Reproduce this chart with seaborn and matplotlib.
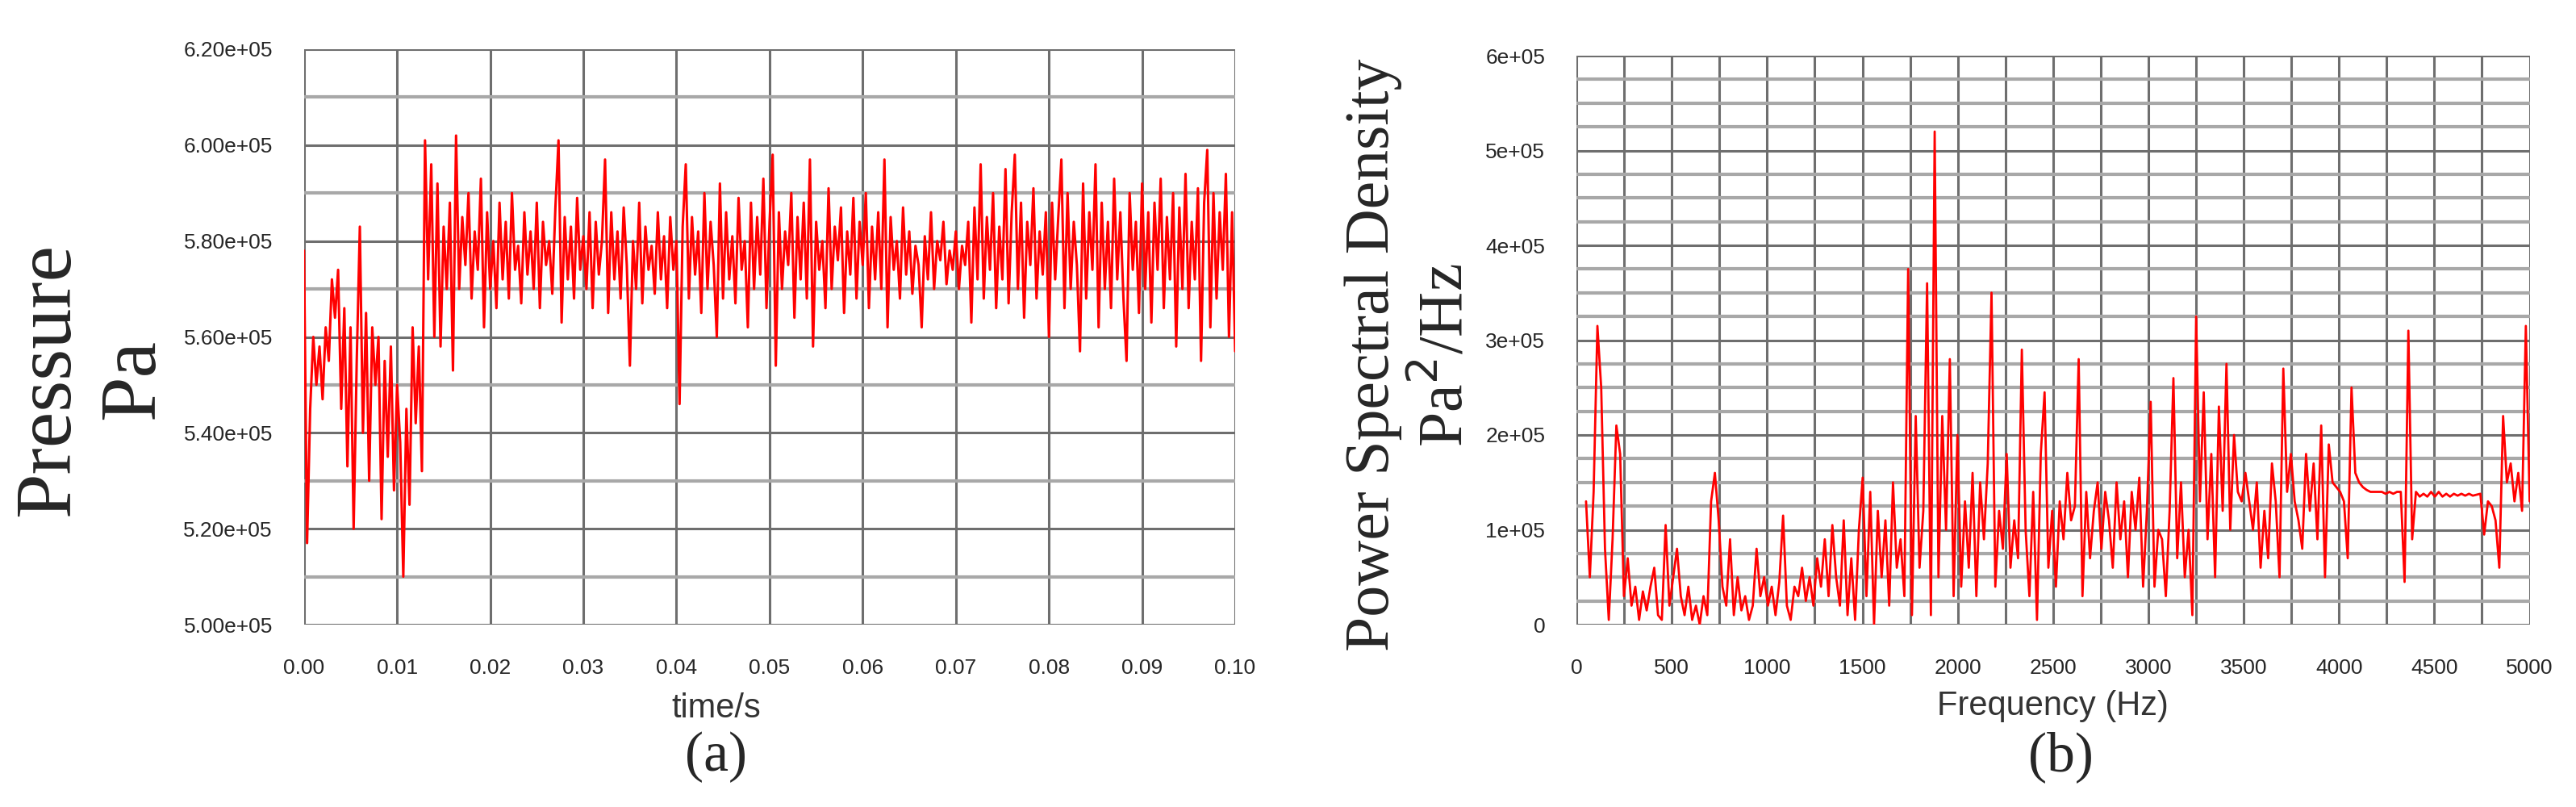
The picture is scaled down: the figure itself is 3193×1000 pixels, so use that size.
import matplotlib
matplotlib.use("Agg")
import matplotlib.pyplot as plt
import matplotlib.ticker as mticker
import numpy as np
import pandas as pd
import seaborn as sns

# (a) pressure history, values in units of 1e5 Pa, evenly sampled over 0..0.1 s
pressure = [
    5.78, 5.17, 5.45, 5.60, 5.50, 5.58, 5.47, 5.62, 5.55, 5.72,
    5.64, 5.74, 5.45, 5.66, 5.33, 5.62, 5.20, 5.55, 5.83, 5.40,
    5.65, 5.30, 5.62, 5.50, 5.60, 5.22, 5.55, 5.35, 5.58, 5.28,
    5.50, 5.38, 5.10, 5.45, 5.25, 5.62, 5.42, 5.58, 5.32, 6.01,
    5.72, 5.96, 5.60, 5.92, 5.58, 5.83, 5.70, 5.88, 5.53, 6.02,
    5.70, 5.85, 5.75, 5.90, 5.68, 5.82, 5.74, 5.93, 5.62, 5.86,
    5.70, 5.80, 5.66, 5.88, 5.72, 5.84, 5.68, 5.90, 5.74, 5.79,
    5.67, 5.86, 5.73, 5.82, 5.70, 5.88, 5.66, 5.84, 5.75, 5.80,
    5.69, 5.87, 6.01, 5.63, 5.85, 5.72, 5.83, 5.68, 5.89, 5.74,
    5.81, 5.70, 5.86, 5.66, 5.84, 5.73, 5.80, 5.97, 5.65, 5.86,
    5.72, 5.82, 5.68, 5.87, 5.75, 5.54, 5.80, 5.70, 5.88, 5.67,
    5.83, 5.74, 5.79, 5.69, 5.86, 5.72, 5.81, 5.66, 5.85, 5.74,
    5.80, 5.46, 5.83, 5.96, 5.68, 5.85, 5.73, 5.82, 5.65, 5.90,
    5.70, 5.84, 5.75, 5.60, 5.92, 5.68, 5.86, 5.72, 5.81, 5.67,
    5.89, 5.74, 5.80, 5.62, 5.88, 5.70, 5.85, 5.73, 5.93, 5.66,
    5.84, 5.98, 5.54, 5.86, 5.70, 5.82, 5.75, 5.90, 5.64, 5.85,
    5.72, 5.88, 5.68, 5.97, 5.58, 5.84, 5.74, 5.80, 5.66, 5.91,
    5.70, 5.83, 5.76, 5.87, 5.65, 5.82, 5.73, 5.89, 5.68, 5.84,
    5.75, 5.90, 5.66, 5.83, 5.72, 5.86, 5.70, 5.97, 5.62, 5.85,
    5.74, 5.80, 5.68, 5.87, 5.73, 5.82, 5.69, 5.79, 5.75, 5.62,
    5.81, 5.72, 5.86, 5.70, 5.80, 5.76, 5.84, 5.71, 5.78, 5.74,
    5.82, 5.70, 5.79, 5.75, 5.84, 5.63, 5.87, 5.72, 5.96, 5.68,
    5.85, 5.74, 5.90, 5.66, 5.83, 5.72, 5.95, 5.67, 5.86, 5.98,
    5.70, 5.88, 5.64, 5.84, 5.75, 5.91, 5.68, 5.82, 5.73, 5.86,
    5.60, 5.88, 5.72, 5.85, 5.97, 5.66, 5.90, 5.70, 5.84, 5.75,
    5.57, 5.92, 5.68, 5.86, 5.74, 5.96, 5.62, 5.88, 5.70, 5.84,
    5.66, 5.93, 5.72, 5.86, 5.68, 5.55, 5.90, 5.74, 5.84, 5.65,
    5.92, 5.70, 5.86, 5.63, 5.88, 5.74, 5.93, 5.66, 5.85, 5.72,
    5.90, 5.58, 5.87, 5.70, 5.94, 5.66, 5.84, 5.72, 5.91, 5.55,
    5.88, 5.99, 5.62, 5.90, 5.68, 5.86, 5.74, 5.94, 5.60, 5.86,
    5.57,
]

# (b) power spectral density, units of 1e5 Pa^2/Hz, evenly sampled over 50..5000 Hz
psd = [
    1.3, 0.5, 1.4, 3.15, 2.5, 0.8, 0.05, 0.9, 2.1, 1.8, 0.3,
    0.7, 0.2, 0.4, 0.05, 0.35, 0.15, 0.4, 0.6, 0.1, 0.05, 1.05,
    0.2, 0.5, 0.8, 0.3, 0.1, 0.4, 0.05, 0.2, 0.0, 0.3, 0.1,
    1.3, 1.6, 1.1, 0.4,
    0.2, 0.9, 0.1, 0.5, 0.15, 0.3, 0.05, 0.2, 0.8, 0.3, 0.5, 0.2,
    0.4, 0.1, 0.45, 1.15, 0.2, 0.05, 0.4, 0.3, 0.6, 0.25, 0.5, 0.2,
    0.7, 0.4, 0.9, 0.3, 1.05, 0.5, 0.2, 1.1, 0.1, 0.7, 0.05, 1.0,
    1.55, 0.3, 1.4, 0.0, 1.2, 0.5, 1.1, 0.2, 1.5, 0.6, 0.9, 0.3,
    3.75, 0.1, 2.2, 0.6, 1.2, 3.6, 0.1, 5.2, 0.5, 2.2, 1.0, 2.8, 0.3, 2.0,
    0.4, 1.3, 0.6, 1.6, 0.3, 1.5, 0.9, 1.7, 3.5, 0.4, 1.2, 0.8, 1.8,
    0.6, 1.1, 0.7, 2.9, 1.0, 0.3, 1.4, 0.05, 1.8, 2.45, 0.6, 1.2,
    0.4, 1.3, 0.9, 1.6, 1.1, 1.25, 2.8, 0.3, 1.4, 0.7, 1.2, 1.5, 0.8,
    1.4, 1.1, 0.6, 1.5, 0.9, 1.3, 0.5, 1.4, 1.0, 1.55, 0.4, 1.2,
    2.35, 0.4, 1.0, 0.9, 0.3, 1.2, 2.6, 0.7, 1.5, 0.5, 1.0, 0.1, 3.25,
    1.3, 2.45, 0.9, 1.8, 0.5, 2.3, 1.2, 2.75, 1.0, 2.0, 1.4, 1.3,
    1.6, 1.3, 1.0, 1.5, 0.6, 1.2, 0.7, 1.7, 1.3, 0.5, 2.7, 1.4, 1.8,
    1.3, 1.1, 0.8, 1.8, 1.2, 1.7, 0.9, 2.1, 0.5, 1.9, 1.5, 1.45,
    1.4, 1.3, 0.7, 2.5, 1.6, 1.5, 1.45, 1.42, 1.4, 1.4, 1.4, 1.4, 1.38,
    1.4, 1.38, 1.4, 1.4, 0.45, 3.1, 0.9, 1.4, 1.35, 1.38, 1.35, 1.4,
    1.35, 1.4, 1.35, 1.38, 1.35, 1.38, 1.36, 1.38, 1.36, 1.38, 1.36, 1.37,
    1.38, 0.95, 1.3, 1.25, 1.1, 0.6, 2.2, 1.5, 1.7, 1.3, 1.6, 1.2, 3.15, 1.3,
]

time = np.linspace(0.0, 0.1, len(pressure))
freq = np.linspace(50, 5000, len(psd))

df_a = pd.DataFrame({"t": time, "p": np.array(pressure) * 1e5})
df_b = pd.DataFrame({"f": freq, "s": np.array(psd) * 1e5})

sns.set_style("white")
plt.rcParams["font.family"] = ["Liberation Sans", "DejaVu Sans"]

fig = plt.figure(figsize=(31.93, 10), dpi=100)
ax_a = fig.add_axes([0.118, 0.226, 0.3615, 0.713])
ax_b = fig.add_axes([0.612, 0.226, 0.370, 0.705])

RED = "#ff0000"


def style_axes(ax):
    for s in ax.spines.values():
        s.set_visible(False)
    ax.grid(True, which="major", color="#6e6e6e", linewidth=2.2)
    ax.grid(True, which="minor", axis="y", color="#a8a8a8", linewidth=3.0)
    ax.set_axisbelow(True)
    ax.tick_params(which="both", length=0, labelsize=19)
    ax.tick_params(axis="x", pad=30)
    ax.tick_params(axis="y", pad=28)


sns.lineplot(data=df_a, x="t", y="p", ax=ax_a, color=RED, linewidth=2.2)
ax_a.set_xlim(0, 0.1)
ax_a.set_ylim(5.0e5, 6.2e5)
ax_a.set_xticks(np.arange(0, 0.1001, 0.01))
ax_a.xaxis.set_major_formatter(mticker.FormatStrFormatter("%.2f"))
ax_a.set_yticks(np.arange(5.0e5, 6.21e5, 0.2e5))
ax_a.set_yticks(np.arange(5.0e5, 6.21e5, 0.1e5), minor=True)
ax_a.yaxis.set_major_formatter(mticker.FuncFormatter(lambda v, p: f"{v:.2e}"))
ax_a.set_xlabel("")
ax_a.set_ylabel("")
style_axes(ax_a)

sns.lineplot(data=df_b, x="f", y="s", ax=ax_b, color=RED, linewidth=2.0)
ax_b.set_xlim(0, 5000)
ax_b.set_ylim(0, 6e5)
ax_b.set_xticks(np.arange(0, 5001, 500))
ax_b.set_xticks(np.arange(0, 5001, 250), minor=True)
ax_b.set_yticks(np.arange(0, 6.01e5, 1e5))
ax_b.set_yticks(np.arange(0, 6.01e5, 0.25e5), minor=True)
ax_b.yaxis.set_major_formatter(
    mticker.FuncFormatter(lambda v, p: "0" if v == 0 else f"{v:.0e}")
)
ax_b.set_xlabel("")
ax_b.set_ylabel("")
style_axes(ax_b)
ax_b.grid(True, which="minor", axis="x", color="#6e6e6e", linewidth=2.2)

serif = ["Liberation Serif", "DejaVu Serif"]
fig.text(0.019, 0.53, "Pressure", rotation=90, ha="center", va="center",
         fontsize=72, family=serif)
fig.text(0.052, 0.53, "Pa", rotation=90, ha="center", va="center",
         fontsize=72, family=serif)
fig.text(0.278, 0.122, "time/s", ha="center", va="center", fontsize=30, color="#333333")
fig.text(0.278, 0.062, "(a)", ha="center", va="center", fontsize=50, family=serif)

fig.text(0.533, 0.56, "Power Spectral Density", rotation=90, ha="center", va="center",
         fontsize=56, family=serif)
fig.text(0.561, 0.56, "Pa$^2$/Hz", rotation=90, ha="center", va="center",
         fontsize=56, family=serif)
fig.text(0.797, 0.125, "Frequency (Hz)", ha="center", va="center", fontsize=30, color="#333333")
fig.text(0.80, 0.062, "(b)", ha="center", va="center", fontsize=50, family=serif)

fig.savefig("out.png", dpi=100, facecolor="white")
